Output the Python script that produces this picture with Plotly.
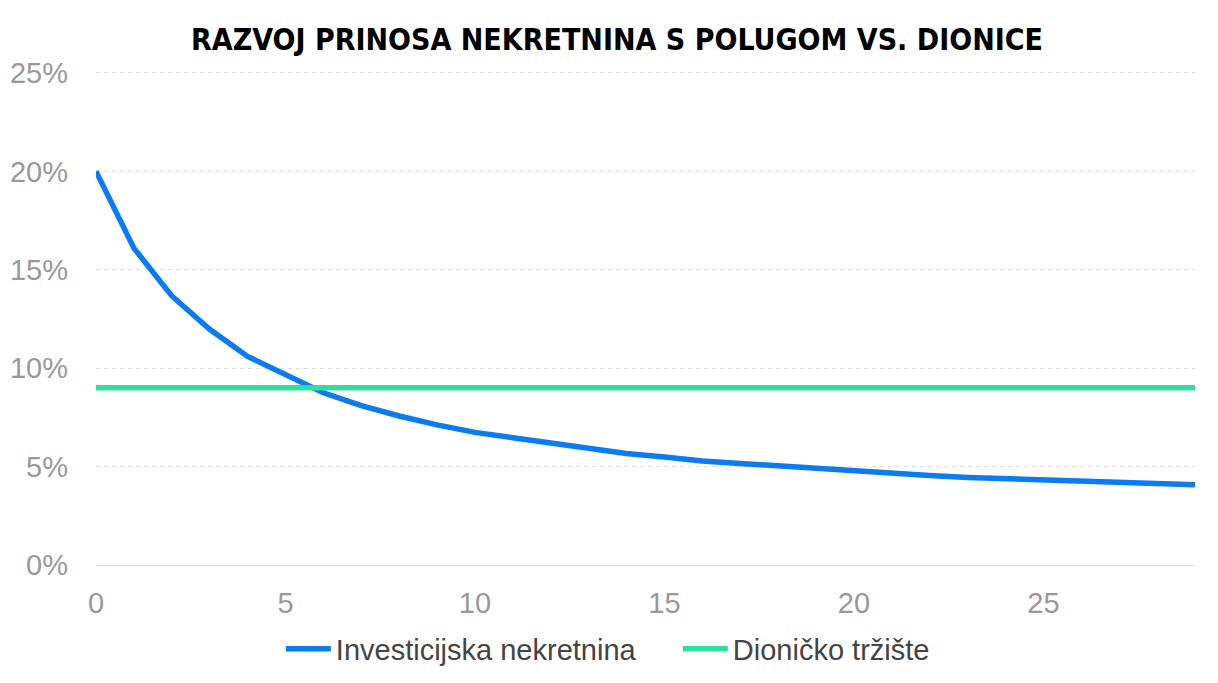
import plotly.graph_objects as go

# godine od kupnje
years = list(range(30))

# prinos nekretnine s polugom (%), očitano sa slike
prinos_nekretnina = [20.0, 16.1, 13.67, 11.98, 10.6, 9.65, 8.75, 8.1, 7.57, 7.12,
                     6.74, 6.47, 6.18, 5.9, 5.67, 5.49, 5.29, 5.16, 5.04, 4.91,
                     4.77, 4.62, 4.55, 4.45, 4.38, 4.32, 4.26, 4.2, 4.15, 4.08]

# prinos dioničkog tržišta (%)
prinos_dionice = [9.0] * 30

y_ticks = [0, 5, 10, 15, 20, 25]
y_labels = ["0%", "5%", "10%", "15%", "20%", "25%"]

fig = go.Figure()
fig.add_trace(go.Scatter(x=years, y=prinos_nekretnina, mode="lines",
                         name="Investicijska nekretnina",
                         line=dict(color="#0A7BF2", width=5.5)))
fig.add_trace(go.Scatter(x=years, y=prinos_dionice, mode="lines",
                         name="Dioničko tržište",
                         line=dict(color="#2EE0A0", width=5.5)))

# stranica ima 8px margine tijela, pa su margine pomaknute
fig.update_layout(
    width=1218, height=683,
    paper_bgcolor="white", plot_bgcolor="white",
    margin=dict(l=88, r=31, t=63, b=126, autoexpand=False),
    font=dict(family="Liberation Sans, Arial, sans-serif", size=29, color="#999999"),
    title=dict(text="RAZVOJ PRINOSA NEKRETNINA S POLUGOM VS. DIONICE",
               x=0.5, xanchor="center", y=0.954, yanchor="middle",
               font=dict(family="DejaVu Sans Condensed", size=30, color="black", weight="bold")),
    legend=dict(orientation="h", x=0.224, xanchor="left", xref="container",
                y=-0.170, yanchor="middle", itemwidth=45,
                entrywidth=337, entrywidthmode="pixels",
                font=dict(size=29, color="#444444")),
    showlegend=True,
)

fig.update_xaxes(range=[0, 29], dtick=5, tick0=0, showgrid=False, zeroline=False,
                 showline=False, ticks="", ticklabelstandoff=18, automargin=False)
fig.update_yaxes(range=[0, 25.1], tickvals=y_ticks, ticktext=y_labels,
                 showgrid=True, gridcolor="#DDDDDD", griddash="4px,4px", gridwidth=1,
                 zeroline=True, zerolinecolor="#DDDDDD", zerolinewidth=1,
                 showline=False, ticks="", ticklabelstandoff=27, automargin=False)

fig.write_html("out.html")
